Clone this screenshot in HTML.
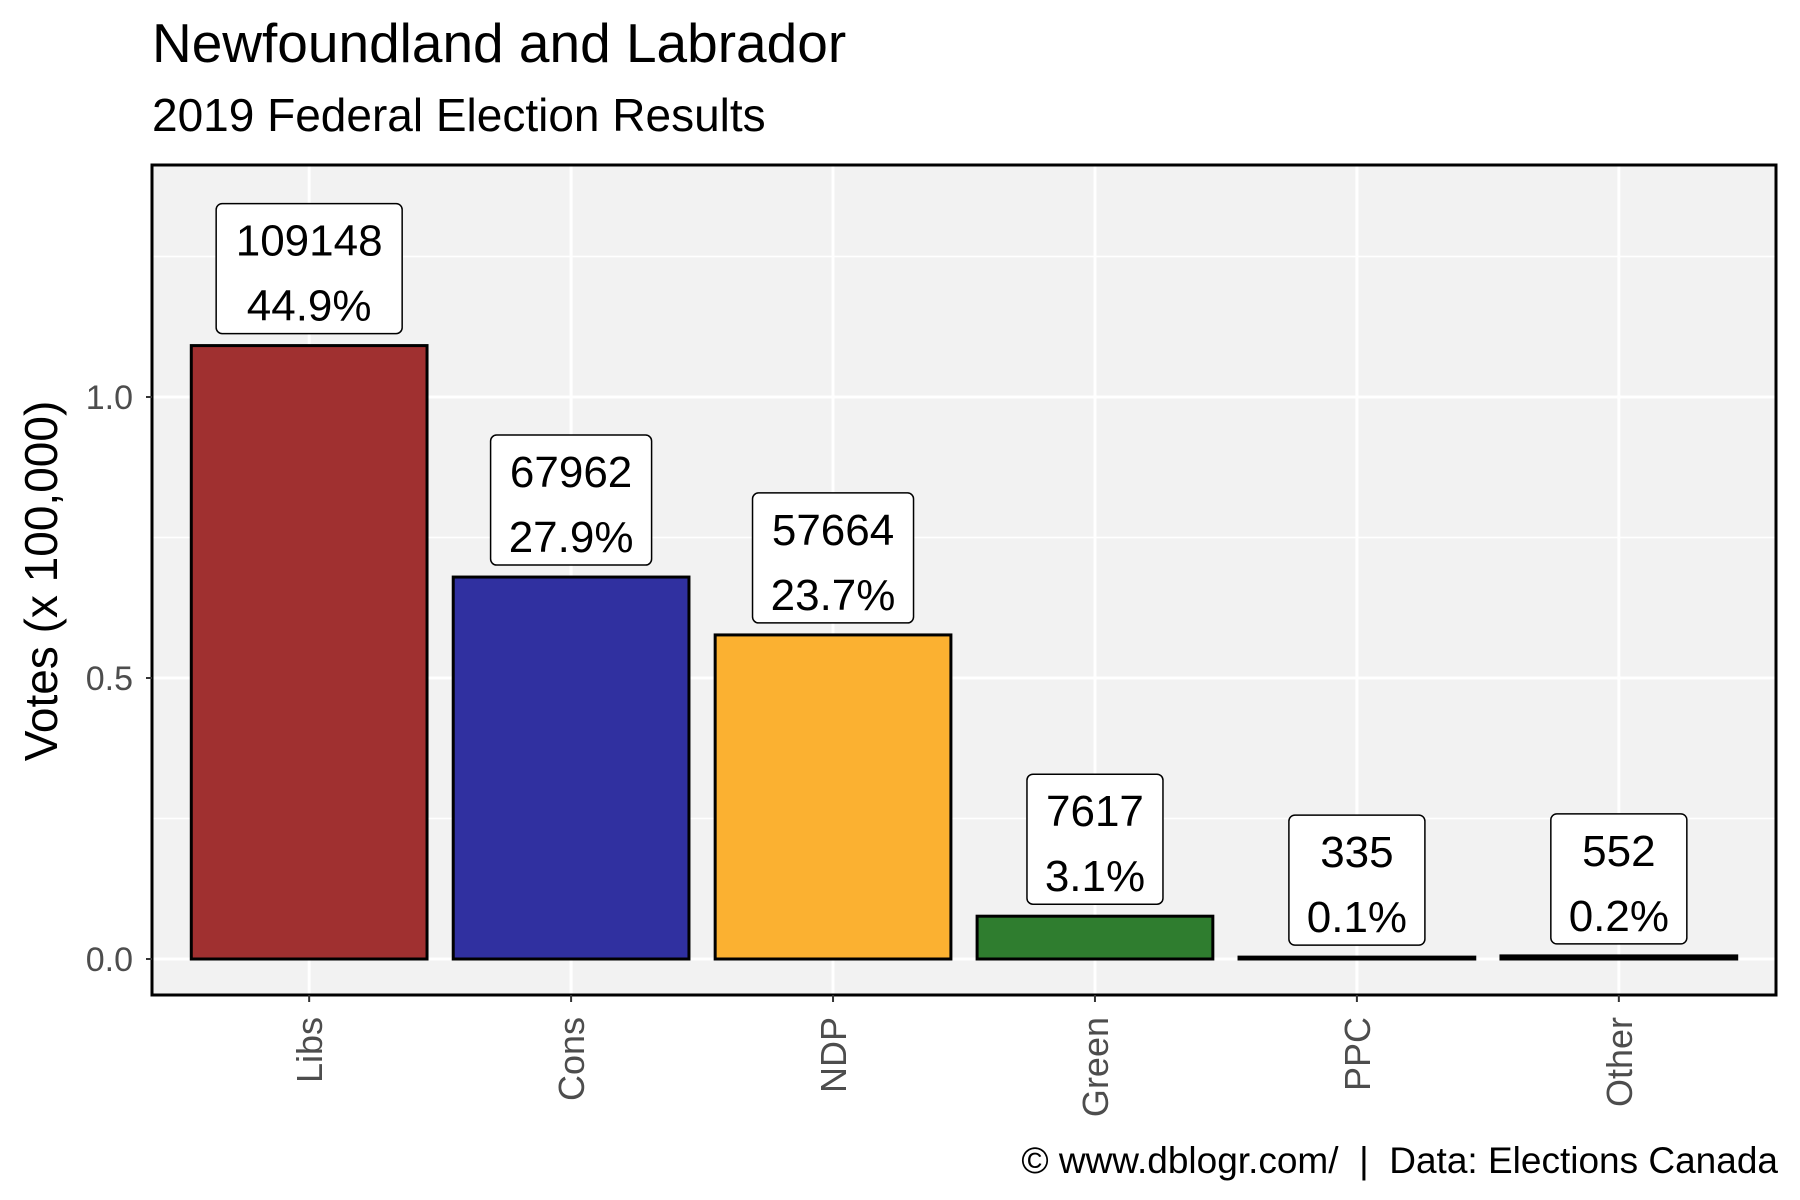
<!DOCTYPE html>
<html><head><meta charset="utf-8"><style>
body{margin:0;background:#fff}
svg{display:block;font-family:"Liberation Sans",Arial,sans-serif}
</style></head><body>
<svg id="chart" width="1800" height="1200" viewBox="0 0 1800 1200">
<text x="152" y="62" font-size="55" fill="#000">Newfoundland and Labrador</text>
<text x="152" y="131" font-size="46" fill="#000">2019 Federal Election Results</text>
<rect x="152" y="165" width="1624" height="830" fill="#f2f2f2"/>
<g id="grid"></g>
<g id="bars"></g>
<g id="labels"></g>
<rect x="152" y="165" width="1624" height="830" fill="none" stroke="#000" stroke-width="3"/>
<g id="axes"></g>
<text transform="translate(57,581) rotate(-90)" text-anchor="middle" font-size="46" fill="#000">Votes (x 100,000)</text>
<text x="1778" y="1173" text-anchor="end" font-size="37" fill="#000" style="white-space:pre" xml:space="preserve">© www.dblogr.com/  |  Data: Elections Canada</text>
</svg>
<script>
const categories = ["Libs","Cons","NDP","Green","PPC","Other"];
const votes = [109148, 67962, 57664, 7617, 335, 552];
const percents = ["44.9%","27.9%","23.7%","3.1%","0.1%","0.2%"];
const colors = ["#a03030","#3030a0","#fbb131","#2f7d2f","#000000","#000000"];
const yTicks = [0, 0.5, 1.0];
const yTickLabels = ["0.0","0.5","1.0"];
const yMinor = [0.25, 0.75, 1.25];

const NS="http://www.w3.org/2000/svg";
const panelL=152, panelR=1776, panelT=165, panelB=995;
const y0=959, pxPerUnit=562;
function yScale(v){return y0 - v*pxPerUnit;}
const step=(panelR-panelL)/(categories.length+0.2);
function xScale(i){return panelL + step*(0.6+i);}
const bw=step*0.9;
function mk(tag, attrs, parent){const e=document.createElementNS(NS,tag);for(const k in attrs)e.setAttribute(k,attrs[k]);parent.appendChild(e);return e;}

const grid=document.getElementById('grid');
yMinor.forEach(v=>{const l=mk('line',{x1:panelL,x2:panelR,y1:yScale(v),y2:yScale(v),stroke:'#fff','stroke-width':1.5},grid);

});
yTicks.forEach(v=>{const l=mk('line',{x1:panelL,x2:panelR,y1:yScale(v),y2:yScale(v),stroke:'#fff','stroke-width':3},grid);

});
categories.forEach((c,i)=>{const l=mk('line',{x1:xScale(i),x2:xScale(i),y1:panelT,y2:panelB,stroke:'#fff','stroke-width':3},grid);

});

const bars=document.getElementById('bars');
const labels=document.getElementById('labels');
categories.forEach((c,i)=>{
  const v=votes[i]/100000;
  const top=yScale(v);
  const r=mk('rect',{x:xScale(i)-bw/2,y:top,width:bw,height:Math.max(y0-top,1),fill:colors[i],stroke:'#000','stroke-width':3},bars);
  
  
  const t1=String(votes[i]), t2=percents[i];
  const chars=Math.max(t1.length,t2.length);
  const w=chars*25+36, h=130;
  const by=top-12-h;
  const b=mk('rect',{x:xScale(i)-w/2,y:by,width:w,height:h,rx:6,fill:'#fff',stroke:'#000','stroke-width':1.5},labels);
  
  
  const a=mk('text',{x:xScale(i),y:by+52,'text-anchor':'middle','font-size':44,fill:'#000'},labels);
  a.textContent=t1;
  
  
  const p=mk('text',{x:xScale(i),y:by+117,'text-anchor':'middle','font-size':44,fill:'#000'},labels);
  p.textContent=t2;
  
  
});

const axes=document.getElementById('axes');
yTicks.forEach((v,i)=>{
  mk('line',{x1:panelL-6,x2:panelL,y1:yScale(v),y2:yScale(v),stroke:'#333','stroke-width':2},axes);
  const t=mk('text',{x:panelL-19,y:yScale(v)+12,'text-anchor':'end','font-size':34,fill:'#4d4d4d'},axes);
  t.textContent=yTickLabels[i];
  
  
});
categories.forEach((c,i)=>{
  mk('line',{x1:xScale(i),x2:xScale(i),y1:panelB,y2:panelB+7,stroke:'#333','stroke-width':2},axes);
  const t=mk('text',{transform:`translate(${xScale(i)+13},${panelB+22}) rotate(-90)`,'text-anchor':'end','font-size':36,fill:'#4d4d4d'},axes);
  t.textContent=c;
  
  
});
</script>
</body></html>
